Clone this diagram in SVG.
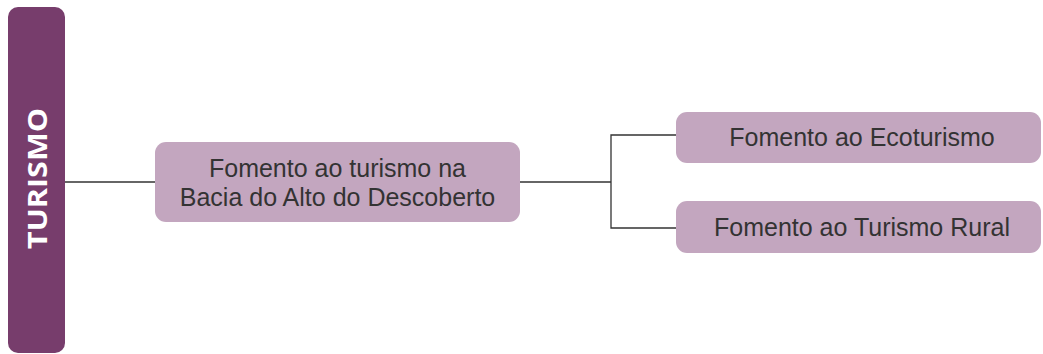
<svg xmlns="http://www.w3.org/2000/svg" width="1043" height="354" viewBox="0 0 1043 354">
  <style>
    .node { fill: #c3a6bf; }
    .lbl { font-family: "Liberation Sans", Arial, sans-serif; font-size: 25px; font-weight: 400; fill: #333333; text-anchor: middle; }
    .conn { fill: none; stroke: #333333; stroke-width: 1.3; }
    .title { font-family: "Open Sans", "Liberation Sans", sans-serif; font-size: 26px; font-weight: 700; fill: #ffffff; text-anchor: middle; }
  </style>
  <rect width="1043" height="354" fill="#ffffff"/>
  <g id="connectors">
    <path class="conn" d="M65 182 H155"/>
    <path class="conn" d="M520 182 H611"/>
    <path class="conn" d="M676 135 H611 V228 H676"/>
  </g>
  <g id="turismo">
    <rect x="8" y="7" width="57" height="346" rx="10" ry="10" fill="#773d6c"/>
    <text class="title" transform="translate(46.5 178.5) rotate(-90)" x="0" y="0" textLength="141" lengthAdjust="spacingAndGlyphs">TURISMO</text>
  </g>
  <g id="fomento-bacia">
    <rect class="node" x="155" y="142" width="365" height="80" rx="11" ry="11"/>
    <text class="lbl" x="337.5" y="177">Fomento ao turismo na</text>
    <text class="lbl" x="337.5" y="206">Bacia do Alto do Descoberto</text>
  </g>
  <g id="fomento-ecoturismo">
    <rect class="node" x="676" y="112" width="365" height="51" rx="11" ry="11"/>
    <text class="lbl" x="862" y="146">Fomento ao Ecoturismo</text>
  </g>
  <g id="fomento-rural">
    <rect class="node" x="676" y="201" width="365" height="52" rx="11" ry="11"/>
    <text class="lbl" x="862" y="236">Fomento ao Turismo Rural</text>
  </g>
</svg>
